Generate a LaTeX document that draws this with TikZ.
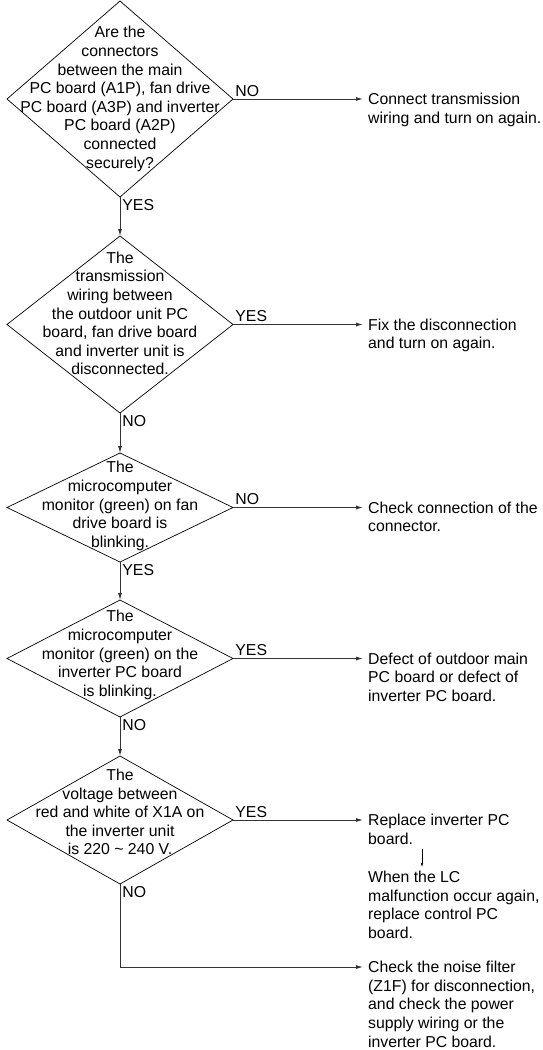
\documentclass[tikz,border=0pt]{standalone}
\usepackage{fontspec}
\setmainfont{Liberation Sans}
\usetikzlibrary{arrows.meta,positioning,shapes.geometric}

\begin{document}
\begin{tikzpicture}[x=1pt,y=-1pt,
    font=\fontsize{15.8}{18.6}\selectfont,
    decision/.style={diamond,draw,line width=0.7pt,minimum width=226pt,inner sep=0pt,outer sep=0pt},
    qtext/.style={align=center,inner sep=0pt},
    action/.style={align=left,anchor=north west,inner sep=0pt},
    flow/.style={-{Latex[length=7pt,width=4pt]},line width=0.9pt,draw=black!80},
    tag/.style={inner sep=2pt}]
  \useasboundingbox (0,0) rectangle (543,1050);
  % decisions
  \node[decision,minimum height=196pt] (q1) at (120,99) {};
  \node[decision,minimum height=177pt] (q2) at (120,324.5) {};
  \node[decision,minimum height=109pt] (q3) at (120,507.5) {};
  \node[decision,minimum height=117pt] (q4) at (120,658.5) {};
  \node[decision,minimum height=128pt] (q5) at (120,820) {};
  \node[qtext] (t1) at (q1) {Are the\\connectors\\between the main\\PC board (A1P), fan drive\\PC board (A3P) and inverter\\PC board (A2P)\\connected\\securely?};
  \node[qtext,yshift=11pt] (t2) at (q2) {The\\transmission\\wiring between\\the outdoor unit PC\\board, fan drive board\\and inverter unit is\\disconnected.};
  \node[qtext,yshift=1.5pt] (t3) at (q3) {The\\microcomputer\\monitor (green) on fan\\drive board is\\blinking.};
  \node[qtext,yshift=3.5pt] (t4) at (q4) {The\\microcomputer\\monitor (green) on the\\inverter PC board\\is blinking.};
  \node[qtext,yshift=8pt] (t5) at (q5) {The\\voltage between\\red and white of X1A on\\the inverter unit\\is 220 \textasciitilde{} 240 V.};
  % actions
  \node[action] (a1) at (368,93) {Connect transmission\\wiring and turn on again.};
  \node[action] (a2) at (368,318.5) {Fix the disconnection\\and turn on again.};
  \node[action] (a3) at (368,501.5) {Check connection of the\\connector.};
  \node[action] (a4) at (368,652.5) {Defect of outdoor main\\PC board or defect of\\inverter PC board.};
  \node[action] (a5) at (368,814) {Replace inverter PC\\board.};
  \node[action] (a5b) at (368,871) {When the LC\\malfunction occur again,\\replace control PC\\board.};
  \node[action] (a6) at (368,961) {Check the noise filter\\(Z1F) for disconnection,\\and check the power\\supply wiring or the\\inverter PC board.};
  % connectors
  \draw[flow] (q1.south) -- node[tag,pos=0,anchor=north west]{YES} (q2.north);
  \draw[flow] (q2.south) -- node[tag,pos=0,anchor=north west]{NO} (q3.north);
  \draw[flow] (q3.south) -- node[tag,pos=0,anchor=north west]{YES} (q4.north);
  \draw[flow] (q4.south) -- node[tag,pos=0,anchor=north west]{NO} (q5.north);
  \draw[flow,shorten >=5pt] (q1.east) -- node[tag,pos=0,anchor=south west]{NO} (q1.east -| a1.north west);
  \draw[flow,shorten >=5pt] (q2.east) -- node[tag,pos=0,anchor=south west]{YES} (q2.east -| a2.north west);
  \draw[flow,shorten >=5pt] (q3.east) -- node[tag,pos=0,anchor=south west]{NO} (q3.east -| a3.north west);
  \draw[flow,shorten >=5pt] (q4.east) -- node[tag,pos=0,anchor=south west]{YES} (q4.east -| a4.north west);
  \draw[flow,shorten >=5pt] (q5.east) -- node[tag,pos=0,anchor=south west]{YES} (q5.east -| a5.north west);
  \draw[flow,shorten >=5pt] (q5.south) |- node[tag,pos=0,anchor=north west]{NO} ([yshift=-6pt]a6.north west);
  \draw[-{Latex[length=4pt,width=2.5pt]},line width=0.5pt,shorten <=4pt,shorten >=4pt]
    ([xshift=54pt]a5.south west) -- ([xshift=54pt]a5b.north west);
\end{tikzpicture}
\end{document}
